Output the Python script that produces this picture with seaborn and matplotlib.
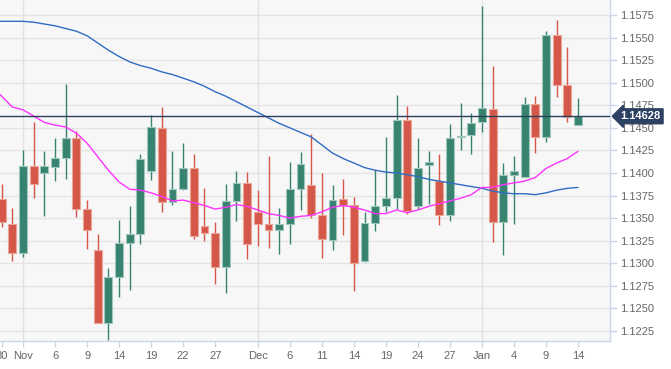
import numpy as np
import pandas as pd
import matplotlib
matplotlib.use('Agg')
import matplotlib.pyplot as plt
import seaborn as sns

# daily candles, one per trading day (index 0 = Oct 30, 54 = Jan 14)
opens = [1.1371, 1.1343, 1.1311, 1.1408, 1.1400, 1.1407, 1.1417, 1.1439, 1.1360, 1.1315,
         1.1234, 1.1285, 1.1322, 1.1332, 1.1402, 1.1450, 1.1368, 1.1382, 1.1405, 1.1341,
         1.1334, 1.1296, 1.1369, 1.1389, 1.1357, 1.1344, 1.1337, 1.1344, 1.1382, 1.1387,
         1.1354, 1.1326, 1.1371, 1.1365, 1.1303, 1.1345, 1.1363, 1.1372, 1.1459, 1.1363,
         1.1409, 1.1391, 1.1353, 1.1440, 1.1442, 1.1456, 1.1471, 1.1346, 1.1398, 1.1396,
         1.1476, 1.1440, 1.1553, 1.1497, 1.1453]
highs = [1.1388, 1.1361, 1.1425, 1.1456, 1.1424, 1.1439, 1.1499, 1.1446, 1.1370, 1.1332,
         1.1295, 1.1348, 1.1363, 1.1421, 1.1464, 1.1473, 1.1424, 1.1433, 1.1421, 1.1383,
         1.1346, 1.1388, 1.1402, 1.1401, 1.1381, 1.1419, 1.1361, 1.1412, 1.1423, 1.1443,
         1.1400, 1.1387, 1.1393, 1.1373, 1.1357, 1.1403, 1.1440, 1.1486, 1.1474, 1.1439,
         1.1424, 1.1421, 1.1454, 1.1477, 1.1466, 1.1585, 1.1518, 1.1411, 1.1419, 1.1484,
         1.1485, 1.1557, 1.1570, 1.1539, 1.1483]
lows = [1.1340, 1.1302, 1.1307, 1.1372, 1.1352, 1.1391, 1.1393, 1.1351, 1.1316, 1.1234,
        1.1215, 1.1263, 1.1270, 1.1321, 1.1392, 1.1357, 1.1365, 1.1381, 1.1327, 1.1325,
        1.1277, 1.1267, 1.1347, 1.1305, 1.1319, 1.1317, 1.1310, 1.1321, 1.1359, 1.1350,
        1.1306, 1.1315, 1.1331, 1.1269, 1.1301, 1.1336, 1.1357, 1.1360, 1.1355, 1.1360,
        1.1366, 1.1342, 1.1347, 1.1425, 1.1421, 1.1445, 1.1324, 1.1309, 1.1344, 1.1396,
        1.1422, 1.1434, 1.1484, 1.1457, 1.1453]
closes = [1.1346, 1.1311, 1.1408, 1.1388, 1.1408, 1.1417, 1.1439, 1.1360, 1.1337, 1.1234,
          1.1285, 1.1322, 1.1332, 1.1415, 1.1451, 1.1368, 1.1382, 1.1405, 1.1330, 1.1333,
          1.1296, 1.1369, 1.1389, 1.1321, 1.1344, 1.1337, 1.1344, 1.1382, 1.1410, 1.1354,
          1.1327, 1.1370, 1.1364, 1.1300, 1.1345, 1.1363, 1.1372, 1.1459, 1.1358, 1.1406,
          1.1412, 1.1353, 1.1439, 1.1441, 1.1455, 1.1472, 1.1346, 1.1398, 1.1402, 1.1476,
          1.1440, 1.1553, 1.1497, 1.1462, 1.14628]

# moving averages, index -1 .. 54
ma_slow = [1.1568, 1.1568, 1.1568, 1.1568, 1.1567, 1.1565, 1.1563, 1.1560, 1.1557, 1.1552, 1.1544,
           1.1536, 1.1529, 1.1523, 1.1519, 1.1516, 1.1512, 1.1509, 1.1505, 1.1501, 1.1496,
           1.1490, 1.1485, 1.1479, 1.1473, 1.1467, 1.1461, 1.1455, 1.1450, 1.1445, 1.1440,
           1.1431, 1.1422, 1.1416, 1.1411, 1.1406, 1.1403, 1.1401, 1.1400, 1.1398, 1.1396,
           1.1393, 1.1391, 1.1389, 1.1387, 1.1385, 1.1383, 1.1380, 1.1378, 1.1377, 1.1377,
           1.1376, 1.1378, 1.1381, 1.1383, 1.1384]
ma_fast = [1.1496, 1.1485, 1.1473, 1.1470, 1.1463, 1.1456, 1.1453, 1.1451, 1.1444, 1.1433, 1.1418,
           1.1403, 1.1390, 1.1382, 1.1381, 1.1378, 1.1374, 1.1369, 1.1370, 1.1367, 1.1364,
           1.1360, 1.1362, 1.1365, 1.1363, 1.1359, 1.1355, 1.1353, 1.1350, 1.1352, 1.1353,
           1.1357, 1.1362, 1.1364, 1.1362, 1.1359, 1.1355, 1.1355, 1.1359, 1.1356, 1.1359,
           1.1363, 1.1366, 1.1369, 1.1372, 1.1376, 1.1384, 1.1384, 1.1387, 1.1389, 1.1391,
           1.1395, 1.1405, 1.1411, 1.1416, 1.1424]

tick_pos = [0, 2, 5, 8, 11, 14, 17, 20, 24, 27, 30, 33, 36, 39, 42, 45, 48, 51, 54]
tick_labels = ['30', 'Nov', '6', '9', '14', '19', '22', '27', 'Dec', '6', '11', '14',
               '19', '24', '27', 'Jan', '4', '9', '14']
month_pos = [2, 24, 45]
last_price = 1.14628

df = pd.DataFrame({'Open': opens, 'High': highs, 'Low': lows, 'Close': closes})
df['idx'] = np.arange(len(df))
ma = pd.DataFrame({'idx': np.arange(-1, len(ma_slow) - 1), 'slow': ma_slow, 'fast': ma_fast})

sns.set_style('white')
plt.rcParams['font.family'] = ['Liberation Sans', 'DejaVu Sans']

fig = plt.figure(figsize=(6.71, 3.69), dpi=100)
ax = fig.add_axes([0, 28 / 369, 610 / 671, 341 / 369])
ax.set_facecolor('#f7f7f7')

green, red = '#37836f', '#d4574a'
green_edge, red_edge = '#9fc7bb', '#eba597'

up = df['Close'] >= df['Open']
colors = np.where(up, green, red)
edges = np.where(up, green_edge, red_edge)
body_lo = df[['Open', 'Close']].min(axis=1)
body_h = (df['Close'] - df['Open']).abs().clip(lower=0.00006)

ax.vlines(df['idx'], df['Low'], df['High'], colors=colors, lw=1, zorder=2)
ax.bar(df['idx'], body_h, bottom=body_lo, width=0.74, color=colors,
       edgecolor=edges, linewidth=0.8, zorder=3)

sns.lineplot(data=ma, x='idx', y='slow', color='#2f6cc4', lw=1, ax=ax, zorder=4)
sns.lineplot(data=ma, x='idx', y='fast', color='#ff33ff', lw=1, ax=ax, zorder=4)

ax.axhline(last_price, color='#2b3f5e', lw=1, zorder=5)
for m in month_pos:
    ax.axvline(m, color='#e2e2e2', lw=1, zorder=0)

ax.set_xlim(-0.16, 57.0)
ax.set_ylim(1.12139, 1.15916)
ax.set_yticks(np.arange(1.1225, 1.15751, 0.0025))
ax.yaxis.set_major_formatter(matplotlib.ticker.FormatStrFormatter('%.4f'))
ax.yaxis.tick_right()
ax.yaxis.grid(True, color='#e4e4e4', lw=1)
ax.set_axisbelow(True)
ax.set_xticks(tick_pos)
ax.set_xticklabels(tick_labels)
ax.set_xlabel('')
ax.set_ylabel('')

ax.tick_params(axis='y', length=5, width=1, color='#ccd6eb', labelcolor='#666666',
               labelsize=8, pad=2, right=True, left=False)
ax.tick_params(axis='x', length=4, width=1, color='#ccd6eb', labelcolor='#666666',
               labelsize=8, pad=3, bottom=True)
for s in ['top', 'left']:
    ax.spines[s].set_visible(False)
for s in ['right', 'bottom']:
    ax.spines[s].set_color('#ccd6eb')
    ax.spines[s].set_linewidth(1)

# last-price tag on the right axis
ax.text(1.017, last_price, f'{last_price:.5f}', transform=ax.get_yaxis_transform(),
        ha='left', va='center', color='white', fontsize=8, fontweight='bold',
        clip_on=False, zorder=10,
        bbox=dict(boxstyle='larrow,pad=0.22', fc='#2d4163', ec='#2d4163'))

fig.savefig('out.png', dpi=100)
